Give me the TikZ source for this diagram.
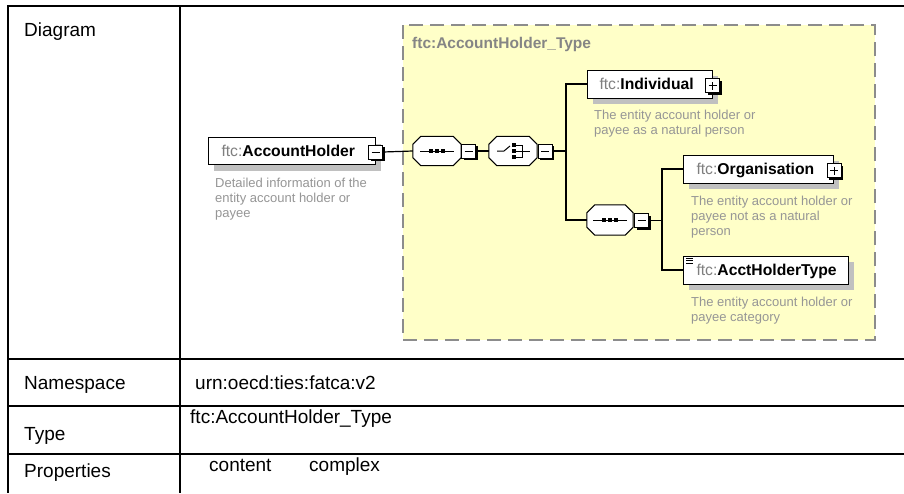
\documentclass[tikz,border=0pt]{standalone}
\usepackage{fontspec}
\setmainfont{Liberation Sans}
\usetikzlibrary{shadows}
\definecolor{yel}{HTML}{FFFFC8}
\definecolor{dashgray}{HTML}{8C8C8C}
\definecolor{shadowgray}{HTML}{C0C0C0}
\definecolor{prefixgray}{HTML}{7F7F7F}
\definecolor{descgray}{HTML}{969696}
\definecolor{titlegray}{HTML}{858585}
\newcommand{\pfx}[1]{\textcolor{prefixgray}{\mdseries #1}}
\newcommand{\octa}[1]{%
  \fill[shadowgray,shift={(5pt,-6pt)}] ([xshift=8pt]#1.north west) -- ([xshift=-8pt]#1.north east) -- ([yshift=-8pt]#1.north east) -- ([yshift=8pt]#1.south east) -- ([xshift=-8pt]#1.south east) -- ([xshift=8pt]#1.south west) -- ([yshift=8pt]#1.south west) -- ([yshift=-8pt]#1.north west) -- cycle;
  \draw[fill=white,line width=1pt] ([xshift=8pt]#1.north west) -- ([xshift=-8pt]#1.north east) -- ([yshift=-8pt]#1.north east) -- ([yshift=8pt]#1.south east) -- ([xshift=-8pt]#1.south east) -- ([xshift=8pt]#1.south west) -- ([yshift=8pt]#1.south west) -- ([yshift=-8pt]#1.north west) -- cycle;}
\newcommand{\seqglyph}[1]{%
  \draw[line width=1pt] ([xshift=-17pt]#1.center) -- ([xshift=17pt]#1.center);
  \foreach \dx in {-6,0,6} \fill ([xshift=\dx pt]#1.center) ++(-2pt,-2pt) rectangle ++(4pt,4pt);}
\newcommand{\minusglyph}[1]{\draw[line width=1pt] ([xshift=-4pt]#1.center) -- ([xshift=4pt]#1.center);}
\newcommand{\plusglyph}[1]{\draw[line width=1pt] ([xshift=-4pt]#1.center) -- ([xshift=4pt]#1.center) ([yshift=-4pt]#1.center) -- ([yshift=4pt]#1.center);}
\begin{document}
\begin{tikzpicture}[x=1pt,y=-1pt,
  tbl/.style={line width=2pt,black},
  tbltext/.style={font=\fontsize{19}{22}\selectfont,anchor=base west,inner sep=0pt},
  elbox/.style={draw=black,fill=white,line width=1pt,inner xsep=0pt,inner ysep=0pt,anchor=west,
    drop shadow={shadow xshift=5pt,shadow yshift=-6pt,fill=shadowgray,opacity=1},
    font=\fontsize{15.7}{18}\selectfont\bfseries,text height=11.3pt,text depth=0pt,align=left},
  btn/.style={draw=black,fill=white,line width=1pt,minimum size=14pt,inner sep=0pt,
    drop shadow={shadow xshift=2pt,shadow yshift=-2pt,fill=black,opacity=1}},
  compo/.style={minimum width=48pt,minimum height=29pt,inner sep=0pt},
  desc/.style={font=\fontsize{13}{15}\selectfont,text=descgray,align=left,anchor=north west,inner sep=0pt},
  conn/.style={line width=1.2pt,black}]
\useasboundingbox (0,0) rectangle (904,493);
\fill[white] (0,0) rectangle (904,493);

% table
\draw[tbl] (8,6) -- (904,6);
\draw[tbl] (8,5) -- (8,493);
\draw[tbl] (180,6) -- (180,493);
\draw[tbl] (8,359) -- (904,359);
\draw[tbl] (8,406) -- (904,406);
\draw[tbl] (8,454) -- (904,454);
\node[tbltext] (lDiag) at (24,36) {Diagram};
\node[tbltext] (lNs) at (24,389) {Namespace};
\node[tbltext] (vNs) at (195,389) {urn:oecd:ties:fatca:v2};
\node[tbltext] (lType) at (24,440) {Type};
\node[tbltext] (vType) at (190,423.5) {ftc:AccountHolder\_Type};
\node[tbltext] (lProp) at (24,477) {Properties};
\node[tbltext] (vProp1) at (209,471.5) {content};
\node[tbltext] (vProp2) at (309,471.5) {complex};

% complex type area
\draw[fill=yel,draw=dashgray,line width=1.5pt,dash pattern=on 14pt off 7pt] (403,25) rectangle (875,340);
\node[font=\fontsize{15.5}{18}\selectfont\bfseries,text=titlegray,anchor=base west,inner sep=0pt] (ttl) at (412,48) {ftc:AccountHolder\_Type};

% elements
\node[elbox,minimum height=27pt,text width=167pt] (ah) at (208,151) {\hspace*{13pt}\pfx{ftc:}AccountHolder};
\node[btn] (bah) at (375.5,152) {};
\minusglyph{bah}
\node[desc] (dah) at (215,178) {Detailed information of the\\entity account holder or\\payee};

\node[compo] (s1) at (437,151) {};
\octa{s1}
\seqglyph{s1}
\node[btn] (bs1) at (468.5,151) {};
\minusglyph{bs1}

\node[compo] (c1) at (513,151) {};
\octa{c1}
\draw[line width=1pt] ([xshift=-16pt]c1.center) -- ([xshift=-9pt]c1.center) -- ([xshift=-3pt,yshift=5pt]c1.center);
\foreach \dy in {-6,0,6} \fill ([xshift=1pt,yshift=\dy pt]c1.center) ++(-1.7pt,-1.7pt) rectangle ++(3.4pt,3.4pt);
\draw[line width=1pt] ([xshift=1pt,yshift=6pt]c1.center) -- ([xshift=9pt,yshift=6pt]c1.center) -- ([xshift=9pt,yshift=-6pt]c1.center) -- ([xshift=1pt,yshift=-6pt]c1.center);
\draw[line width=1pt] ([xshift=1pt]c1.center) -- ([xshift=17pt]c1.center);
\node[btn] (bc1) at (545,151) {};
\minusglyph{bc1}

\coordinate (j1) at (566,151);

\node[elbox,minimum height=28pt,text width=125pt] (ind) at (587,84) {\hspace*{12pt}\pfx{ftc:}Individual};
\node[btn] (bind) at (712.5,85.5) {};
\plusglyph{bind}
\node[desc] (dind) at (594,110) {The entity account holder or\\payee as a natural person};

\node[compo,minimum width=46pt,minimum height=30pt] (s2) at (610,220) {};
\octa{s2}
\seqglyph{s2}
\node[btn] (bs2) at (641.5,220.5) {};
\minusglyph{bs2}

\coordinate (j2) at (662,220.5);

\node[elbox,minimum height=28pt,text width=150pt] (org) at (683,169) {\hspace*{13pt}\pfx{ftc:}Organisation};
\node[btn] (borg) at (834,170.5) {};
\plusglyph{borg}
\node[desc] (dorg) at (691,196) {The entity account holder or\\payee not as a natural\\person};

\node[elbox,minimum height=28pt,text width=165pt] (aht) at (683,270) {\hspace*{13pt}\pfx{ftc:}AcctHolderType};
\draw[line width=0.8pt] ([xshift=3pt,yshift=-3pt]aht.north west) -- ++(7pt,0pt)
  ([xshift=3pt,yshift=-5.2pt]aht.north west) -- ++(7pt,0pt)
  ([xshift=3pt,yshift=-7.4pt]aht.north west) -- ++(7pt,0pt);
\node[desc] (daht) at (691,297) {The entity account holder or\\payee category};

% connectors
\draw[conn] (bah.east) -- (s1.west);
\draw[conn] (bs1.east) -- (c1.west);
\draw[conn] (bc1.east) -- (j1);
\draw[conn] (ind.west) -| (j1);
\draw[conn] (s2.west) -| (j1);
\draw[conn] (bs2.east) -- (j2);
\draw[conn] (org.west) -| (j2);
\draw[conn] (aht.west) -| (j2);
\end{tikzpicture}
\end{document}
